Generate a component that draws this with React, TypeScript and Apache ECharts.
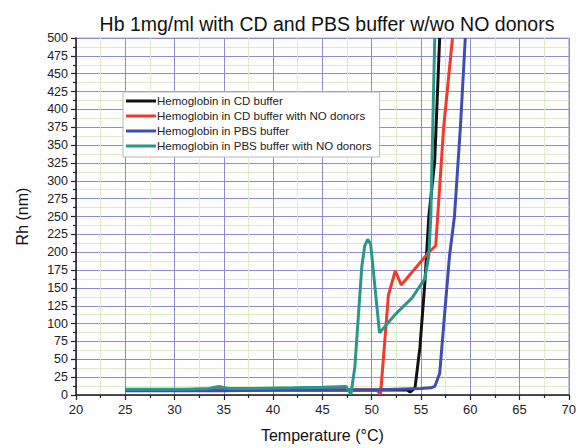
import React, { useEffect, useRef } from "react";
import * as echarts from "echarts";

const titleText = "Hb 1mg/ml with CD and PBS buffer w/wo NO donors";
const seriesNames = [
  "Hemoglobin in CD buffer",
  "Hemoglobin in CD buffer with NO donors",
  "Hemoglobin in PBS buffer",
  "Hemoglobin in PBS buffer with NO donors",
];
const seriesColors = ["#111111", "#f03a2c", "#3e4cb4", "#2a978a"];

// Hemoglobin in CD buffer
const cdTemp = [25, 30, 35, 40, 45, 50, 53.6, 53.9, 54.4, 54.9, 55.4, 55.8, 56.4, 56.9];
const cdRh = [7, 7, 7, 7, 7, 7, 7, 4, 10, 67, 158, 250, 328, 500];

// Hemoglobin in CD buffer with NO donors
const cdNoTemp = [25, 30, 35, 40, 45, 50, 50.6, 50.9, 51.7, 52.4, 53.0, 55.8, 56.5, 57.3, 58.2];
const cdNoRh = [7, 7, 7, 7, 7, 7, 6, 1, 140, 174, 154, 200, 209, 374, 500];

// Hemoglobin in PBS buffer
const pbsTemp = [25, 30, 35, 40, 45, 50, 55, 56.0, 56.4, 56.9, 57.4, 57.9, 58.4, 59.0, 59.5];
const pbsRh = [6, 6, 6, 7, 7, 7, 9, 10, 12, 30, 113, 195, 250, 374, 500];

// Hemoglobin in PBS buffer with NO donors
const pbsNoTemp = [25, 28, 31, 33.5, 34.5, 35.5, 38, 42, 45, 47.4, 47.9, 48.3, 49.0, 49.3, 49.6, 49.9, 50.8, 52.4, 54.1, 55.4, 55.8, 56.0, 56.4];
const pbsNoRh = [8, 8, 8, 9, 12, 9, 9, 10, 11, 12, 1, 40, 180, 209, 218, 211, 87, 113, 136, 163, 195, 250, 500];

const xMin = 20;
const xMax = 70;
const xStep = 5;
const yMin = 0;
const yMax = 500;
const yStep = 25;

const zip = (xs: number[], ys: number[]) => xs.map((x, i) => [x, ys[i]]);

export default function App() {
  const ref = useRef<HTMLDivElement>(null);
  useEffect(() => {
    if (!ref.current) return;
    const chart = echarts.init(ref.current, null, { renderer: "svg" });
    const data = [zip(cdTemp, cdRh), zip(cdNoTemp, cdNoRh), zip(pbsTemp, pbsRh), zip(pbsNoTemp, pbsNoRh)];
    const font = "'Liberation Sans', Arial, sans-serif";
    chart.setOption({
      animation: false,
      backgroundColor: "#ffffff",
      textStyle: { fontFamily: font },
      title: {
        text: titleText,
        left: 322,
        textAlign: "center",
        top: 9,
        textStyle: { fontSize: 19.5, fontWeight: "normal", color: "#111", fontFamily: font },
      },
      grid: {
        left: 76,
        right: 8,
        top: 38,
        bottom: 46,
        show: true,
        borderColor: "#b0b0d8",
        borderWidth: 1,
      },
      legend: {
        orient: "vertical",
        left: 123,
        top: 92,
        data: seriesNames,
        icon: "rect",
        itemWidth: 30,
        itemHeight: 3,
        itemGap: 3,
        padding: [3, 8, 5, 3],
        backgroundColor: "#ffffff",
        borderColor: "#b8b8b8",
        borderWidth: 1,
        textStyle: { fontSize: 11.5, color: "#222", fontFamily: font, padding: [0, 0, 0, -4] },
      },
      xAxis: {
        type: "value",
        min: xMin,
        max: xMax,
        interval: xStep,
        name: "Temperature (°C)",
        nameLocation: "middle",
        nameGap: 32,
        nameTextStyle: { fontSize: 16, color: "#111", fontFamily: font },
        axisLine: { show: true, onZero: false, lineStyle: { color: "#222", width: 1.5 } },
        axisTick: { show: true, length: 5, lineStyle: { color: "#222", width: 1.2 } },
        minorTick: { show: true, splitNumber: 2, length: 3, lineStyle: { color: "#222", width: 1.2 } },
        axisLabel: { fontSize: 13, color: "#222", margin: 8, fontFamily: font },
        splitLine: { show: true, lineStyle: { color: "#8c8cd2", width: 1 } },
        minorSplitLine: { show: true, lineStyle: { color: "#dcecc8", width: 1 } },
      },
      yAxis: {
        type: "value",
        min: yMin,
        max: yMax,
        interval: yStep,
        name: "Rh (nm)",
        nameLocation: "middle",
        nameGap: 46,
        nameTextStyle: { fontSize: 16, color: "#111", fontFamily: font },
        axisLine: { show: true, onZero: false, lineStyle: { color: "#222", width: 1.5 } },
        axisTick: { show: true, length: 5, lineStyle: { color: "#222", width: 1.2 } },
        minorTick: { show: true, splitNumber: 2, length: 3, lineStyle: { color: "#222", width: 1.2 } },
        axisLabel: { fontSize: 12.5, color: "#222", margin: 8, fontFamily: font },
        splitLine: { show: true, lineStyle: { color: "#8c8cd2", width: 1 } },
        minorSplitLine: { show: true, lineStyle: { color: "#dcecc8", width: 1 } },
      },
      series: seriesNames.map((name, i) => ({
        name,
        type: "line",
        data: data[i],
        showSymbol: false,
        symbol: "none",
        clip: true,
        lineStyle: { color: seriesColors[i], width: 3 },
        itemStyle: { color: seriesColors[i] },
        z: 2 + i,
      })),
    });
    return () => chart.dispose();
  }, []);
  return (
    <div
      ref={ref}
      style={{ position: "absolute", left: 0, top: 0, width: 579, height: 448 }}
    />
  );
}
